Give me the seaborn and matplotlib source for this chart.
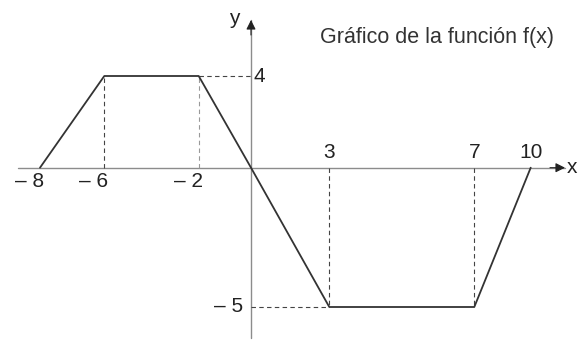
import numpy as np
import pandas as pd
import matplotlib
matplotlib.use("Agg")
import matplotlib.pyplot as plt
import seaborn as sns

# data: breakpoints of f(x)
x_points = [-8, -6, -2, 0, 3, 7, 10]
y_points = [0, 4, 4, 0, -5, -5, 0]
x_above = [3, 7, 10]          # tick labels written above the x axis
x_below = [-8, -6, -2]        # tick labels written below the x axis
title = "Gráfico de la función f(x)"

df = pd.DataFrame({"x": x_points, "y": y_points})

# the drawing is not to scale, so map data -> figure pixels piecewise
xk_data = [-12, -8, -6, -2, 0, 3, 7, 10, 14]
xk_pix = [-88.6, 40, 104.3, 198.7, 251, 329.3, 474.3, 530.7, 605.9]
yk_data = [-8, -5, 0, 4, 8]
yk_pix = [-49.6, 34, 173.3, 265, 356.7]

def fx(v):
    return np.interp(v, xk_data, xk_pix)

def fx_inv(v):
    return np.interp(v, xk_pix, xk_data)

def fy(v):
    return np.interp(v, yk_data, yk_pix)

def fy_inv(v):
    return np.interp(v, yk_pix, yk_data)

sns.set_theme(style="white")
plt.rcParams["font.family"] = ["Liberation Sans", "DejaVu Sans"]

fig = plt.figure(figsize=(5.79, 3.41), dpi=100)
ax = fig.add_axes([0, 0, 1, 1])
ax.set_xscale("function", functions=(fx, fx_inv))
ax.set_yscale("function", functions=(fy, fy_inv))
ax.set_xlim(fx_inv(0), fx_inv(579))
ax.set_ylim(fy_inv(0), fy_inv(341))
ax.axis("off")

axis_col = "#8c8c8c"
dash_col = "#444444"
txt_col = "#222222"
fs = 15

# axes with arrows
x_end = fx_inv(565)
y_end = fy_inv(321)
ax.plot([fx_inv(18), x_end], [0, 0], color=axis_col, lw=1.0, zorder=1)
ax.plot([0, 0], [fy_inv(3), y_end], color=axis_col, lw=1.0, zorder=1)
ax.annotate("", xy=(x_end, 0), xytext=(fx_inv(550), 0),
            arrowprops=dict(arrowstyle="-|>", color=txt_col, lw=0.8,
                            mutation_scale=14, shrinkA=0, shrinkB=0))
ax.annotate("", xy=(0, y_end), xytext=(0, fy_inv(306)),
            arrowprops=dict(arrowstyle="-|>", color=txt_col, lw=0.8,
                            mutation_scale=14, shrinkA=0, shrinkB=0))
ax.text(fx_inv(567), 0, "x", fontsize=fs, color=txt_col, ha="left", va="center")
ax.text(fx_inv(240), fy_inv(322), "y", fontsize=fs, color=txt_col, ha="right", va="center")

# dashed guides
dash = (0, (4, 3))
for xv, yv in zip(x_points, y_points):
    if yv != 0 and xv in (-6, -2, 3, 7):
        c = "#999999" if xv == -2 else dash_col
        ax.plot([xv, xv], [0, yv], color=c, lw=0.8, ls=dash, zorder=1)
ax.plot([-2, 0], [4, 4], color=dash_col, lw=0.8, ls=dash, zorder=1)
ax.plot([0, 3], [-5, -5], color=dash_col, lw=0.8, ls=dash, zorder=1)

# the function
sns.lineplot(data=df, x="x", y="y", sort=False, color="#333333", lw=1.3,
             ax=ax, zorder=3)
ax.set_xlabel("")
ax.set_ylabel("")

# tick labels
for xv in x_below:
    ax.annotate("– %d" % abs(xv), (xv, 0), xytext=(3, -3), textcoords="offset points",
                ha="right", va="top", fontsize=fs, color=txt_col)
for xv in x_above:
    ax.annotate("%d" % xv, (xv, 0), xytext=(0, 4), textcoords="offset points",
                ha="center", va="bottom", fontsize=fs, color=txt_col)
ax.annotate("4", (0, 4), xytext=(2, 0), textcoords="offset points",
            ha="left", va="center", fontsize=fs, color=txt_col)
ax.annotate("– 5", (0, -5), xytext=(-6, 0), textcoords="offset points",
            ha="right", va="center", fontsize=fs, color=txt_col)

fig.text(437 / 579, 1 - 37 / 341, title, fontsize=15.5, color="#333333",
         ha="center", va="center")

fig.savefig("out.png", dpi=100)
